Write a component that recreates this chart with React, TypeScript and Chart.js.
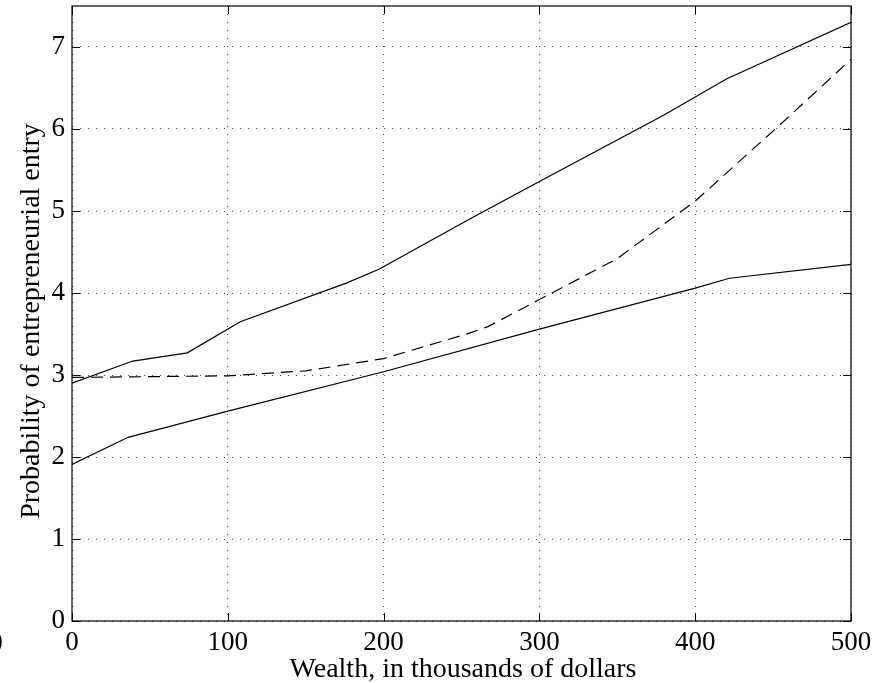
import React, { useEffect, useRef } from "react";
import { Chart, registerables } from "chart.js";

Chart.register(...registerables);

// Wealth (thousands of dollars) and probability values for each curve
const upperX = [0, 39, 74, 108, 176, 197, 255, 300, 380, 420, 500];
const upperY = [2.9, 3.17, 3.27, 3.65, 4.12, 4.29, 4.9, 5.36, 6.17, 6.61, 7.3];

const middleX = [0, 50, 100, 150, 200, 255, 267, 300, 350, 400, 452, 500];
const middleY = [2.97, 2.98, 2.99, 3.05, 3.2, 3.51, 3.59, 3.92, 4.42, 5.12, 6.01, 6.85];

const lowerX = [0, 36, 100, 200, 300, 400, 422, 500];
const lowerY = [1.91, 2.24, 2.56, 3.04, 3.56, 4.06, 4.18, 4.35];

const xTicks = [0, 100, 200, 300, 400, 500];
const yTicks = [0, 1, 2, 3, 4, 5, 6, 7];

const xTitle = "Wealth, in thousands of dollars";
const yTitle = "Probability of entrepreneurial entry";

const FONT = "'Liberation Serif', 'Times New Roman', serif";
const TICK_SIZE = 27;
const TITLE_SIZE = 28;

const pts = (xs: number[], ys: number[]) => xs.map((x, i) => ({ x, y: ys[i] }));

const framePlugin = {
  id: "matlabFrame",
  afterDraw(chart: any) {
    const { ctx, chartArea } = chart;
    const { left, right, top, bottom } = chartArea;
    const xs = chart.scales.x;
    const ys = chart.scales.y;
    const tl = 8;
    ctx.save();
    ctx.strokeStyle = "#000";
    ctx.lineWidth = 1.2;
    ctx.setLineDash([]);
    ctx.strokeRect(left, top, right - left, bottom - top);
    ctx.beginPath();
    xTicks.forEach((v) => {
      const px = Math.round(xs.getPixelForValue(v)) + 0.5;
      ctx.moveTo(px, bottom);
      ctx.lineTo(px, bottom - tl);
      ctx.moveTo(px, top);
      ctx.lineTo(px, top + tl);
    });
    yTicks.forEach((v) => {
      const py = Math.round(ys.getPixelForValue(v)) + 0.5;
      ctx.moveTo(left, py);
      ctx.lineTo(left + tl, py);
      ctx.moveTo(right, py);
      ctx.lineTo(right - tl, py);
    });
    ctx.lineWidth = 1;
    ctx.stroke();

    ctx.fillStyle = "#000";
    // stray clipped tick label at the far left of the reference
    ctx.font = `${TICK_SIZE}px ${FONT}`;
    ctx.textAlign = "center";
    ctx.textBaseline = "alphabetic";
    ctx.fillText("0", -4, bottom + 30);

    // axis titles
    ctx.font = `${TITLE_SIZE}px ${FONT}`;
    ctx.textAlign = "center";
    ctx.textBaseline = "alphabetic";
    ctx.fillText(xTitle, (left + right) / 2 + 1.5, 677);
    ctx.translate(39, (top + bottom) / 2 + 7.5);
    ctx.rotate(-Math.PI / 2);
    ctx.fillText(yTitle, 0, 0);
    ctx.restore();
  },
};

export default function App() {
  const ref = useRef<HTMLCanvasElement>(null);
  useEffect(() => {
    if (!ref.current) return;
    const chart = new Chart(ref.current, {
      type: "line",
      data: {
        datasets: [
          {
            data: pts(upperX, upperY),
            borderColor: "#000",
            borderWidth: 1.2,
            pointRadius: 0,
            tension: 0,
          },
          {
            data: pts(middleX, middleY),
            borderColor: "#000",
            borderWidth: 1.2,
            borderDash: [12, 7],
            pointRadius: 0,
            tension: 0,
          },
          {
            data: pts(lowerX, lowerY),
            borderColor: "#000",
            borderWidth: 1.2,
            pointRadius: 0,
            tension: 0,
          },
        ],
      },
      options: {
        animation: false,
        responsive: false,
        devicePixelRatio: 1,
        layout: { padding: { top: 6, right: 39, left: 0, bottom: 0 } },
        plugins: { legend: { display: false }, tooltip: { enabled: false } },
        scales: {
          x: {
            type: "linear",
            min: 0,
            max: 500,
            afterBuildTicks: (s: any) => {
              s.ticks = xTicks.map((v) => ({ value: v }));
            },
            afterFit: (s: any) => {
              s.height = 62;
              s.paddingLeft = 0;
              s.paddingRight = 0;
            },
            ticks: {
              color: "#000",
              font: { family: FONT, size: TICK_SIZE },
              padding: 6,
              maxRotation: 0,
              autoSkip: false,
            },
            grid: { color: "#444", lineWidth: 1, drawTicks: false },
            border: { display: false, dash: [1, 7] },
            title: { display: false },
          },
          y: {
            type: "linear",
            min: 0,
            max: 7.5,
            afterBuildTicks: (s: any) => {
              s.ticks = yTicks.map((v) => ({ value: v }));
            },
            afterFit: (s: any) => {
              s.width = 72;
              s.paddingTop = 0;
              s.paddingBottom = 0;
            },
            ticks: {
              color: "#000",
              font: { family: FONT, size: TICK_SIZE },
              padding: 7,
              autoSkip: false,
            },
            grid: { color: "#444", lineWidth: 1, drawTicks: false },
            border: { display: false, dash: [1, 7] },
            title: { display: false },
          },
        },
      },
      plugins: [framePlugin],
    });
    return () => chart.destroy();
  }, []);
  return (
    <div style={{ position: "absolute", left: 0, top: 0, width: 890, height: 683, background: "#fff" }}>
      <canvas ref={ref} width={890} height={683} />
    </div>
  );
}
